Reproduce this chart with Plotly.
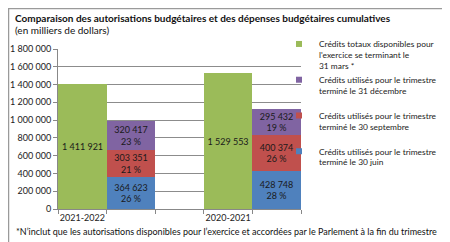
import plotly.graph_objects as go

# --- data ---
categories = ["2021-2022", "2020-2021"]
total_credits = [1411921, 1529553]
q1_june = [364623, 428748]
q2_sept = [303351, 400374]
q3_dec = [320417, 295432]
pct_june = ["26 %", "28 %"]
pct_sept = ["21 %", "26 %"]
pct_dec = ["23 %", "19 %"]

legend_names = [
    "Crédits totaux disponibles pour<br>l'exercice se terminant le<br>31 mars *",
    "Crédits utilisés pour le trimestre<br>terminé le 31 décembre<br> ",
    "Crédits utilisés pour le trimestre<br>terminé le 30 septembre<br> ",
    "Crédits utilisés pour le trimestre<br>terminé le 30 juin",
]
colors = ["#9BBB59", "#8064A2", "#C0504D", "#4F81BD"]

W, H = 450, 242
ML, MR, MT, MB = 50, 157, 41, 41
PW, PH = W - ML - MR, H - MT - MB
FONT = "Lato"

# each year uses a slot of 3: total bar, stacked bar, empty gap
x_total = [3 * i for i in range(len(categories))]
x_used = [3 * i + 1 for i in range(len(categories))]


def fmt(v):
    return f"{v:,}".replace(",", " ")


fig = go.Figure()

fig.add_trace(go.Bar(
    x=x_total, y=total_credits, width=1,
    marker=dict(color=colors[0], line=dict(width=0)),
    text=[fmt(v) for v in total_credits],
    textposition="inside", insidetextanchor="middle",
    textangle=0, constraintext="none",
    textfont=dict(size=9, color="#1a1a1a"),
    showlegend=False,
))

stack = [
    (q1_june, pct_june, colors[3]),
    (q2_sept, pct_sept, colors[2]),
    (q3_dec, pct_dec, colors[1]),
]
for vals, pcts, col in stack:
    fig.add_trace(go.Bar(
        x=x_used, y=vals, width=1,
        marker=dict(color=col, line=dict(width=0)),
        text=[f"{fmt(v)}<br>{p}" for v, p in zip(vals, pcts)],
        textposition="inside", insidetextanchor="middle",
        textangle=0, constraintext="none",
        textfont=dict(size=9, color="#1a1a1a"),
        showlegend=False,
    ))

# small square legend keys, like the original
for i, (nm, col) in enumerate(zip(legend_names, colors)):
    fig.add_trace(go.Scatter(
        x=[None], y=[None], mode="markers",
        marker=dict(symbol="square", size=6, color=col),
        name=nm, legendgroup=str(i), legendrank=i + 1,
    ))


def px(x):
    return (x - ML) / PW


def py(y):
    return (H - MB - y) / PH


fig.update_layout(
    width=W, height=H,
    margin=dict(l=ML, r=MR, t=MT, b=MB, autoexpand=False),
    barmode="stack", bargap=0,
    paper_bgcolor="white", plot_bgcolor="white",
    separators=", ",
    font=dict(family=FONT, size=9, color="#222"),
    showlegend=True,
    legend=dict(
        x=px(271), y=py(24), xanchor="left", yanchor="top",
        font=dict(size=8.4, color="#222"), valign="top",
        tracegroupgap=0, itemwidth=30, bgcolor="rgba(0,0,0,0)",
        maxheight=230,
    ),
    xaxis=dict(
        range=[-0.5, 3 * len(categories) - 1.5],
        tickvals=x_total, ticktext=categories,
        ticks="", showgrid=False, zeroline=False, automargin=False,
        showline=True, linecolor="#888", linewidth=1,
        tickfont=dict(size=9, color="#222"),
        minor=dict(ticks="outside", tick0=-0.5, dtick=1, ticklen=4, tickcolor="#888", showgrid=False),
    ),
    yaxis=dict(
        range=[0, 1800000], dtick=200000, tickformat=",d",
        showgrid=True, gridcolor="#8c8c8c", gridwidth=1,
        zeroline=False, showline=True, linecolor="#888", linewidth=1,
        ticks="outside", ticklen=4, tickcolor="#888", automargin=False,
        tickfont=dict(size=9, color="#222"),
    ),
    annotations=[
        dict(text="<b>Comparaison des autorisations budgétaires et des dépenses budgétaires cumulatives</b>",
             xref="paper", yref="paper", x=px(5), y=py(10), xanchor="left", yanchor="middle",
             showarrow=False, font=dict(size=10, color="#111")),
        dict(text="(en milliers de dollars)",
             xref="paper", yref="paper", x=px(5), y=py(22), xanchor="left", yanchor="middle",
             showarrow=False, font=dict(size=10, color="#111")),
        dict(text="*N\u2019inclut que les autorisations disponibles pour l\u2019exercice et accordées par le Parlement à la fin du trimestre",
             xref="paper", yref="paper", x=px(6), y=py(223), xanchor="left", yanchor="middle",
             showarrow=False, font=dict(size=9, color="#111")),
    ],
    shapes=[
        dict(type="rect", xref="paper", yref="paper",
             x0=px(0.5), x1=px(449), y0=py(0.5), y1=py(240.5),
             line=dict(color="#9a9a9a", width=1.5), layer="above"),
    ],
)

fig.write_html("out.html")
